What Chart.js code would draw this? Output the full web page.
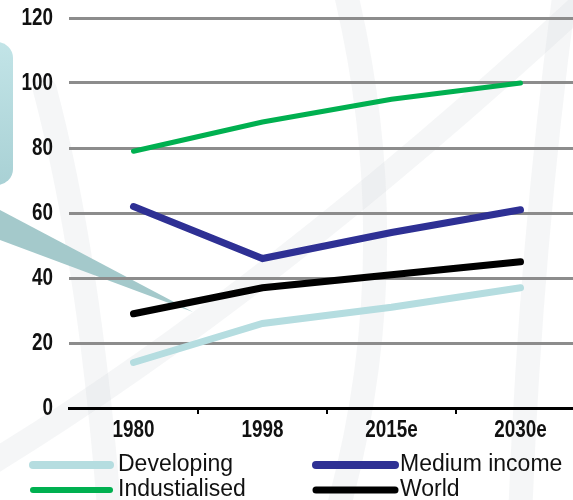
<!DOCTYPE html>
<html>
<head>
<meta charset="utf-8">
<script src="https://cdn.jsdelivr.net/npm/chart.js@4"></script>
<style>
  html, body { margin: 0; padding: 0; background: #fff; overflow: hidden; }
  #wrap { width: 600px; height: 500px; position: relative; }
</style>
</head>
<body>
<div id="wrap"><canvas id="chart"></canvas></div>
<script>
// Categories and series
const years = ['1980', '1998', '2015e', '2030e'];
const developing = [14, 26, 31, 37];
const industrialised = [79, 88, 95, 100];
const mediumIncome = [62, 46, 54, 61];
const world = [29, 37, 41, 45];
const seriesNames = ['Developing', 'Industialised', 'Medium income', 'World'];
const yMin = 0, yMax = 120, yStep = 20;

const colors = {
    developing: '#b5dde0',
    industrialised: '#00b050',
    medium: '#2e3094',
    world: '#000000',
    grid: '#8c8c8c',
    text: '#111111'
};

const baseFont = '"Liberation Sans", Arial, sans-serif';

// Faint background swooshes and the teal callout on the left
const backdrop = {
    id: 'backdrop',
    beforeDraw(chart) {
        const c = chart.ctx;
        c.save();
        c.strokeStyle = 'rgba(205,209,216,0.2)';
        c.lineCap = 'round';
        c.lineWidth = 24;
        c.beginPath();
        c.moveTo(45, 90);
        c.quadraticCurveTo(90, 260, 110, 520);
        c.stroke();
        c.beginPath();
        c.moveTo(-20, 470);
        c.quadraticCurveTo(260, 300, 575, 10);
        c.stroke();
        c.beginPath();
        c.moveTo(345, -10);
        c.quadraticCurveTo(410, 260, 335, 520);
        c.stroke();
        c.beginPath();
        c.moveTo(565, -10);
        c.quadraticCurveTo(530, 250, 520, 520);
        c.stroke();

        // callout box
        const g = c.createLinearGradient(0, 42, 0, 185);
        g.addColorStop(0, '#c2e4e7');
        g.addColorStop(1, '#a9d1d5');
        c.fillStyle = g;
        c.beginPath();
        c.roundRect(-40, 42, 53, 143, 16);
        c.fill();

        // callout pointer
        c.fillStyle = '#a4c9cb';
        c.beginPath();
        c.moveTo(0, 210);
        c.lineTo(193, 312);
        c.lineTo(0, 240);
        c.closePath();
        c.fill();
        c.restore();
    }
};

// Tick labels in a tall, condensed bold face
function condensedText(c, text, x, y, align) {
    const sx = 0.82;
    c.save();
    c.translate(x, y);
    c.scale(sx, 1);
    c.textAlign = align;
    c.fillText(text, 0, 0);
    c.restore();
}

const tallTicks = {
    id: 'tallTicks',
    afterDraw(chart) {
        const c = chart.ctx;
        const xs = chart.scales.x;
        const ys = chart.scales.y;
        c.save();
        c.fillStyle = colors.text;
        c.font = 'bold 23px ' + baseFont;
        c.textBaseline = 'middle';
        ys.ticks.forEach((t, i) => {
            condensedText(c, String(t.value), 53, ys.getPixelForTick(i) + 1, 'right');
        });
        xs.ticks.forEach((t, i) => {
            condensedText(c, xs.getLabelForValue(t.value), xs.getPixelForTick(i), 431, 'center');
        });
        c.restore();
    }
};

// Two-column legend under the axis
const sideLegend = {
    id: 'sideLegend',
    afterDraw(chart) {
        const c = chart.ctx;
        const cols = [{ x0: 33, x1: 110, tx: 118 }, { x0: 316, x1: 395, tx: 400 }];
        const rows = [{ ly: 465, ty: 471 }, { ly: 490, ty: 496 }];
        const widths = [8, 6, 8, 7];
        c.save();
        chart.data.datasets.forEach((ds, i) => {
            const col = cols[Math.floor(i / 2)];
            const row = rows[i % 2];
            c.strokeStyle = ds.borderColor;
            c.lineWidth = widths[i];
            c.lineCap = 'round';
            c.beginPath();
            c.moveTo(col.x0, row.ly);
            c.lineTo(col.x1, row.ly);
            c.stroke();
            c.fillStyle = colors.text;
            c.font = '23px ' + baseFont;
            c.textAlign = 'left';
            c.textBaseline = 'alphabetic';
            c.fillText(ds.label, col.tx, row.ty);
        });
        c.restore();
    }
};

function lineSet(label, data, color, width) {
    return {
        label: label,
        data: data,
        borderColor: color,
        backgroundColor: color,
        borderWidth: width,
        borderCapStyle: 'round',
        borderJoinStyle: 'miter',
        pointRadius: 0,
        tension: 0,
        fill: false
    };
}

new Chart(document.getElementById('chart').getContext('2d'), {
    type: 'line',
    data: {
        labels: years,
        datasets: [
            lineSet(seriesNames[0], developing, colors.developing, 7),
            lineSet(seriesNames[1], industrialised, colors.industrialised, 5),
            lineSet(seriesNames[2], mediumIncome, colors.medium, 7),
            lineSet(seriesNames[3], world, colors.world, 7)
        ]
    },
    options: {
        responsive: true,
        maintainAspectRatio: false,
        animation: false,
        layout: { padding: { top: 18, right: 15, bottom: 0, left: 0 } },
        plugins: {
            legend: { display: false },
            tooltip: { enabled: false }
        },
        scales: {
            x: {
                offset: true,
                afterFit: (scale) => { scale.height = 92; },
                border: { display: true, color: '#000', width: 3 },
                grid: {
                    offset: true,
                    drawOnChartArea: false,
                    drawTicks: true,
                    tickLength: 6,
                    lineWidth: 2,
                    color: (ctx) => ctx.index === 0 ? 'rgba(0,0,0,0)' : '#000'
                },
                ticks: {
                    color: 'rgba(0,0,0,0)',
                    padding: 3,
                    maxRotation: 0,
                    font: { family: baseFont, size: 2 }
                }
            },
            y: {
                min: yMin,
                max: yMax,
                afterFit: (scale) => { scale.width = 69; },
                border: { display: false },
                grid: {
                    drawTicks: false,
                    lineWidth: 3,
                    color: (ctx) => ctx.tick && ctx.tick.value === 0 ? 'rgba(0,0,0,0)' : colors.grid
                },
                ticks: {
                    stepSize: yStep,
                    padding: 16,
                    color: 'rgba(0,0,0,0)',
                    font: { family: baseFont, size: 2 }
                }
            }
        }
    },
    plugins: [backdrop, tallTicks, sideLegend]
});
</script>
</body>
</html>
